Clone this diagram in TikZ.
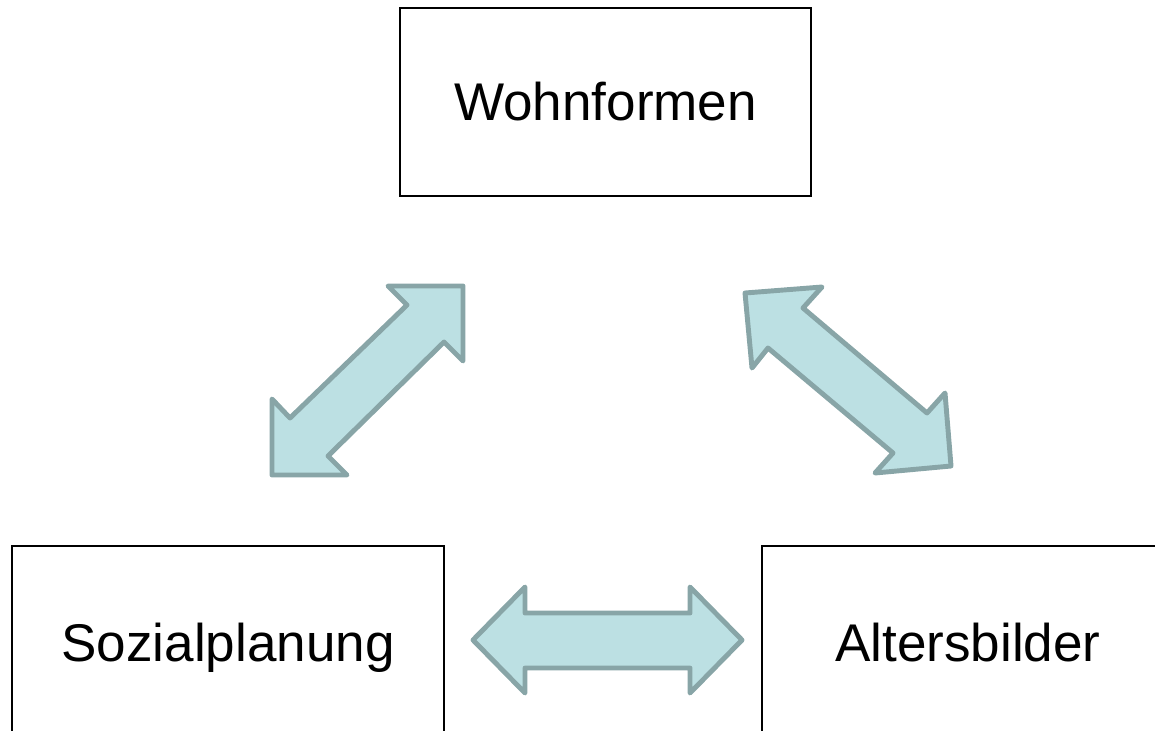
\documentclass[tikz,border=0pt]{standalone}
\usepackage{fontspec}
\setmainfont{Liberation Sans}
\usepackage{tikz}
\usetikzlibrary{calc}
\definecolor{arrowfill}{HTML}{BCE0E3}
\definecolor{arrowline}{HTML}{88A5A7}

\begin{document}
\begin{tikzpicture}[x=0.02cm, y=-0.02cm,
		topic/.style={draw=black, line width=0.9pt, fill=white, inner sep=0pt,
			font=\fontsize{30.2}{36}\selectfont, text height=21.6pt, text depth=0pt},
		blockarrow/.style={fill=arrowfill, draw=arrowline, line width=2.8pt, line join=round}]
								\useasboundingbox (0,0) rectangle (1155,730);
								\clip (0,0) rectangle (1155,730);

								\node[topic, minimum width=8.22cm, minimum height=3.76cm] (wohn) at (605.5,102) {Wohnformen};
								\node[topic, minimum width=8.64cm, minimum height=3.88cm] (sozial) at (228,643) {Sozialplanung};
								\node[topic, minimum width=8.24cm, minimum height=3.88cm] (alter) at (968,643) {Altersbilder};

								% Sozialplanung <-> Wohnformen
								\draw[blockarrow] (463,286) -- (388,286) -- (407,305) -- (290,418) -- (272,399)
									-- (272,475) -- (347,475) -- (328,456) -- (444,342) -- (463,361) -- cycle;

								% Wohnformen <-> Altersbilder
								\draw[blockarrow] (745,293) -- (822,287) -- (803,308) -- (927,413) -- (945,393)
									-- (951,466) -- (875,473) -- (893,453) -- (768,348) -- (752,368) -- cycle;

								% Sozialplanung <-> Altersbilder
								\draw[blockarrow] (473,640) -- (525,587) -- (525,613) -- (690,613) -- (690,587)
									-- (742,640) -- (690,693) -- (690,668) -- (525,668) -- (525,693) -- cycle;
							\end{tikzpicture}
\end{document}
